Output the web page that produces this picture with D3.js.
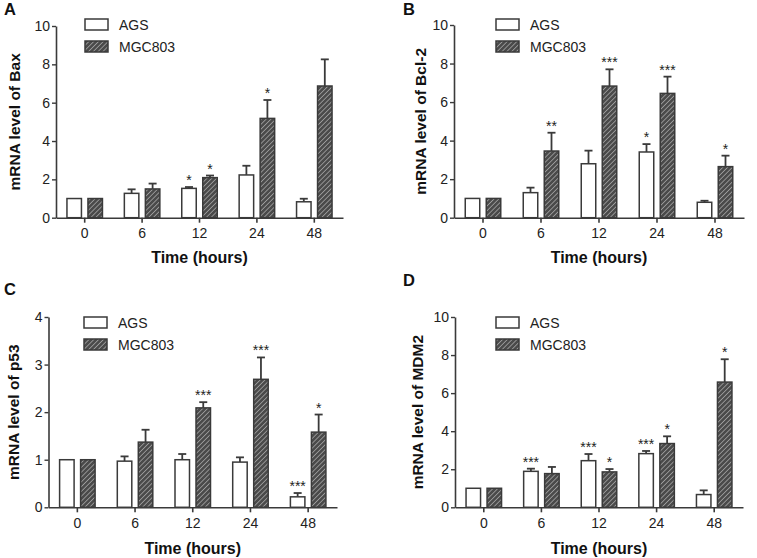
<!DOCTYPE html>
<html><head><meta charset="utf-8">
<script src="https://cdn.jsdelivr.net/npm/d3@7"></script>
<style>body{margin:0;background:#fff}svg{display:block}text{font-family:"Liberation Sans",Arial,sans-serif}</style>
</head><body><svg id="c" width="757" height="558"></svg>
<script>
const categories = ["0","6","12","24","48"];
const seriesNames = ["AGS","MGC803"];
// Panel A: Bax
const baxAGS = [1.0, 1.27, 1.53, 2.23, 0.83];
const baxAGSerr = [0, 0.21, 0.07, 0.48, 0.16];
const baxMGC = [1.0, 1.50, 2.09, 5.18, 6.87];
const baxMGCerr = [0, 0.28, 0.11, 0.96, 1.39];
const baxAGSsig = ["","","*","",""];
const baxMGCsig = ["","","*","*",""];
// Panel B: Bcl-2
const bclAGS = [1.0, 1.30, 2.80, 3.41, 0.80];
const bclAGSerr = [0, 0.26, 0.68, 0.41, 0.08];
const bclMGC = [1.0, 3.46, 6.83, 6.45, 2.65];
const bclMGCerr = [0, 0.95, 0.87, 0.87, 0.57];
const bclAGSsig = ["","","","*",""];
const bclMGCsig = ["","**","***","***","*"];
// Panel C: p53
const p53AGS = [1.0, 0.97, 1.00, 0.95, 0.22];
const p53AGSerr = [0, 0.10, 0.12, 0.10, 0.08];
const p53MGC = [1.0, 1.37, 2.09, 2.69, 1.58];
const p53MGCerr = [0, 0.26, 0.12, 0.46, 0.37];
const p53AGSsig = ["","","","","***"];
const p53MGCsig = ["","","***","***","*"];
// Panel D: MDM2
const mdmAGS = [1.0, 1.89, 2.45, 2.82, 0.67];
const mdmAGSerr = [0, 0.14, 0.35, 0.14, 0.22];
const mdmMGC = [1.0, 1.77, 1.86, 3.35, 6.58];
const mdmMGCerr = [0, 0.35, 0.15, 0.38, 1.20];
const mdmAGSsig = ["","***","***","***",""];
const mdmMGCsig = ["","","*","*","*"];
const yTicksA = [0,2,4,6,8,10];
const yTicksC = [0,1,2,3,4];

const svg = d3.select("#c");
const defs = svg.append("defs");
const pat = defs.append("pattern").attr("id","hatch").attr("patternUnits","userSpaceOnUse")
  .attr("width",3.4).attr("height",3.4).attr("patternTransform","rotate(45)");
pat.append("rect").attr("width",3.4).attr("height",3.4).attr("fill","#4a4a4a");
pat.append("line").attr("x1",0).attr("y1",0).attr("x2",0).attr("y2",3.4).attr("stroke","#b0b0b0").attr("stroke-width",1.4);

const ink = "#3a3a3a";
const panels = [
  {letter:"A", lx:4, ly:15, ylab:"mRNA level of Bax", x0:56, x1:343, yb:217.7, yt:26, max:10, ticks:yTicksA,
   a:baxAGS, ae:baxAGSerr, m:baxMGC, me:baxMGCerr, as:baxAGSsig, ms:baxMGCsig, labX:15, legX:85, legY:19, titleY:263},
  {letter:"B", lx:403, ly:15, ylab:"mRNA level of Bcl-2", x0:454, x1:744, yb:217.7, yt:25, max:10, ticks:yTicksA,
   a:bclAGS, ae:bclAGSerr, m:bclMGC, me:bclMGCerr, as:bclAGSsig, ms:bclMGCsig, labX:421, legX:496, legY:19, titleY:263},
  {letter:"C", lx:4, ly:295, ylab:"mRNA level of p53", x0:48.5, x1:337, yb:507.3, yt:317, max:4, ticks:yTicksC,
   a:p53AGS, ae:p53AGSerr, m:p53MGC, me:p53MGCerr, as:p53AGSsig, ms:p53MGCsig, labX:14, legX:84, legY:317, titleY:554},
  {letter:"D", lx:403, ly:286, ylab:"mRNA level of MDM2", x0:455, x1:743, yb:507.3, yt:317, max:10, ticks:yTicksA,
   a:mdmAGS, ae:mdmAGSerr, m:mdmMGC, me:mdmMGCerr, as:mdmAGSsig, ms:mdmMGCsig, labX:418, legX:496, legY:317, titleY:554}
];

panels.forEach(p => {
  const g = svg.append("g");
  const x = d3.scaleBand().domain(categories).range([p.x0, p.x1]);
  const xs = d3.scaleBand().domain(seriesNames).range([-17.75, 17.75]).paddingInner(0.31);
  const y = d3.scaleLinear().domain([0, p.max]).range([p.yb, p.yt]);

  // y axis
  const ya = g.append("g").attr("transform",`translate(${p.x0},0)`)
    .call(d3.axisLeft(y).tickValues(p.ticks).tickFormat(d3.format("d")).tickSize(4).tickSizeOuter(0));
  ya.select(".domain").attr("stroke",ink).attr("stroke-width",1.6);
  ya.selectAll(".tick line").attr("stroke",ink).attr("stroke-width",1.4);
  ya.selectAll(".tick text").attr("font-size",14).attr("fill","#222").attr("dx",1)
    .attr("font-family","'Liberation Sans',Arial,sans-serif");
  // x axis
  const xa = g.append("g").attr("transform",`translate(0,${p.yb})`)
    .call(d3.axisBottom(x).tickSize(5).tickSizeOuter(0));
  xa.select(".domain").attr("stroke",ink).attr("stroke-width",1.6);
  xa.selectAll(".tick line").attr("stroke",ink).attr("stroke-width",1.6);
  xa.selectAll(".tick text").attr("font-size",14).attr("fill","#222").attr("dy","0.9em")
    .attr("font-family","'Liberation Sans',Arial,sans-serif");

  const series = [
    {name:"AGS", v:p.a, e:p.ae, s:p.as, fill:"#fff"},
    {name:"MGC803", v:p.m, e:p.me, s:p.ms, fill:"url(#hatch)"}
  ];
  series.forEach(sr => {
    categories.forEach((c,i) => {
      const bx = x(c) + x.bandwidth()/2 + xs(sr.name);
      const bw = xs.bandwidth();
      const cx = bx + bw/2;
      const top = y(sr.v[i] + sr.e[i]);
      if (sr.e[i] > 0) {
        g.append("line").attr("x1",cx).attr("x2",cx).attr("y1",y(sr.v[i])).attr("y2",top)
          .attr("stroke",ink).attr("stroke-width",1.8);
        g.append("line").attr("x1",cx-4).attr("x2",cx+4).attr("y1",top).attr("y2",top)
          .attr("stroke",ink).attr("stroke-width",1.8);
      }
      g.append("rect").attr("x",bx).attr("y",y(sr.v[i])).attr("width",bw).attr("height",y(0)-y(sr.v[i]))
        .attr("fill",sr.fill).attr("stroke",ink).attr("stroke-width",1.5);
      if (sr.s[i]) {
        g.append("text").attr("x",cx).attr("y",top-2).attr("text-anchor","middle")
          .attr("font-size",14).attr("fill","#222").text(sr.s[i]);
      }
    });
  });

  // legend
  series.forEach((sr,k) => {
    const ly = p.legY + k*22;
    g.append("rect").attr("x",p.legX).attr("y",ly).attr("width",23).attr("height",11)
      .attr("fill",sr.fill).attr("stroke",ink).attr("stroke-width",1.5);
    g.append("text").attr("x",p.legX+34).attr("y",ly+10.5).attr("font-size",14).attr("fill","#222").text(sr.name);
  });

  // titles
  g.append("text").attr("x",(p.x0+p.x1)/2).attr("y",p.titleY).attr("text-anchor","middle")
    .attr("font-size",16).attr("font-weight","bold").attr("fill","#111").text("Time (hours)");
  g.append("text").attr("transform",`translate(${p.labX+5},${(p.yb+p.yt)/2}) rotate(-90)`)
    .attr("text-anchor","middle").attr("font-size",15.5).attr("font-weight","bold").attr("fill","#111").text(p.ylab);
  g.append("text").attr("x",p.lx).attr("y",p.ly).attr("font-size",16.5).attr("font-weight","bold").attr("fill","#111").text(p.letter);
});
</script></body></html>
